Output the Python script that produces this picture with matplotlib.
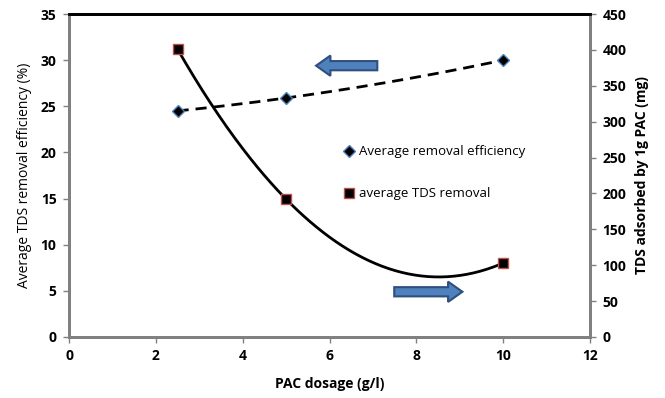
import matplotlib.pyplot as plt
import numpy as np
from matplotlib.patches import FancyArrow

# Data
dosage = [2.5, 5, 10]
removal_eff = [24.5, 25.9, 30.0]      # left axis (%)
tds_adsorbed = [401, 192, 103]        # right axis (mg)

plt.rcParams['font.family'] = ['Open Sans', 'DejaVu Sans']

fig = plt.figure(figsize=(6.65, 3.98), dpi=100)
ax = fig.add_axes([0.1038, 0.1533, 0.7835, 0.8115])
ax2 = ax.twinx()

# trendlines (polynomial order 2, like the spreadsheet)
xs = np.linspace(dosage[0], dosage[-1], 200)
p1 = np.polyfit(dosage, removal_eff, 2)
p2 = np.polyfit(dosage, tds_adsorbed, 2)
ax.plot(xs, np.polyval(p1, xs), color='black', lw=2, ls=(0, (4, 2.5)), zorder=2)
ax2.plot(xs, np.polyval(p2, xs), color='black', lw=2, zorder=2)

ax.plot(dosage, removal_eff, ls='none', marker='D', ms=6, mfc='black',
        mec='#4F81BD', mew=1, label='Average removal efficiency', zorder=3)
ax2.plot(dosage, tds_adsorbed, ls='none', marker='s', ms=7, mfc='black',
         mec='#C0504D', mew=1, label='average TDS removal', zorder=3)

# arrows
ax.add_patch(FancyArrow(7.1, 29.4, -1.41, 0, width=1.0, head_width=2.2,
                        head_length=0.33, length_includes_head=True,
                        fc='#4F81BD', ec='#2F4F7F', lw=1.5, zorder=4))
ax.add_patch(FancyArrow(7.49, 4.9, 1.57, 0, width=1.0, head_width=2.2,
                        head_length=0.33, length_includes_head=True,
                        fc='#4F81BD', ec='#2F4F7F', lw=1.5, zorder=4))

ax.set_xlim(0, 12)
ax.set_ylim(0, 35)
ax2.set_ylim(0, 450)
ax.set_xticks(range(0, 13, 2))
ax.set_yticks(range(0, 36, 5))
ax2.set_yticks(range(0, 451, 50))

ax.set_xlabel('PAC dosage (g/l)', fontsize=10, fontweight='bold', labelpad=10)
ax.set_ylabel('Average TDS removal efficiency (%)', fontsize=10, labelpad=6)
ax2.set_ylabel('TDS adsorbed by 1g PAC (mg)', fontsize=10, fontweight='bold', labelpad=6)

for a in (ax, ax2):
    a.tick_params(direction='out', length=4, width=1, color='#808080',
                  labelsize=10, pad=5)
    for lab in a.get_xticklabels() + a.get_yticklabels():
        lab.set_fontweight('bold')
    for side in ('left', 'bottom', 'right'):
        a.spines[side].set_color('#808080')
        a.spines[side].set_linewidth(2)
    a.spines['top'].set_color('black')
    a.spines['top'].set_linewidth(2)

h1, l1 = ax.get_legend_handles_labels()
h2, l2 = ax2.get_legend_handles_labels()
ax2.legend(h1 + h2, l1 + l2, loc='upper left', bbox_to_anchor=(0.505, 0.63),
           frameon=False, fontsize=9.5, labelspacing=2.2, handlelength=0.8,
           handletextpad=0.3)

plt.savefig('out.png', dpi=100)
